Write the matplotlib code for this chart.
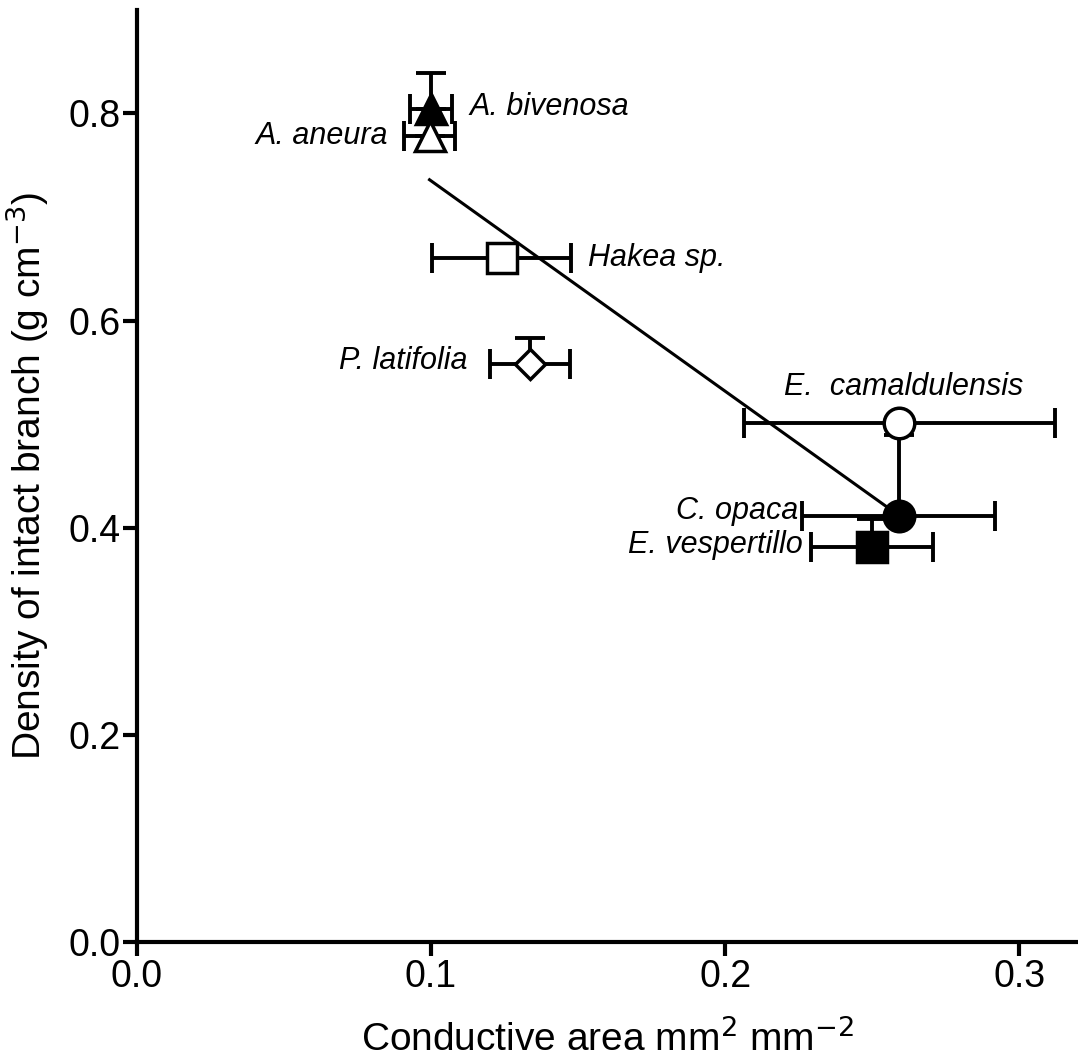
import matplotlib.pyplot as plt

species = ['A. bivenosa', 'A. aneura', 'Hakea sp.', 'P. latifolia',
           'E.  camaldulensis', 'C. opaca', 'E. vespertillo']
area = [0.100, 0.0995, 0.124, 0.1335, 0.2593, 0.259, 0.250]
area_err = [0.0073, 0.0088, 0.0236, 0.0136, 0.053, 0.0328, 0.0207]
density = [0.804, 0.778, 0.660, 0.558, 0.501, 0.411, 0.381]
density_err = [0.035, 0.0, 0.0, 0.025, 0.0, 0.079, 0.027]

# regression line ends
fit_x = [0.0995, 0.2585]
fit_y = [0.736, 0.413]

plt.rcParams['font.family'] = ['Liberation Sans', 'DejaVu Sans']

markers = ['^', '^', 's', 'D', 'o', 'o', 's']
filled = [True, False, False, False, False, True, True]
msize = [22, 22, 21, 15, 22, 22, 21]
# text placement (offset in points, alignment)
label_pos = [((28, 2), 'left'), ((-30, 0), 'right'), ((62, 0), 'left'),
             ((-45, 2), 'right'), ((3, 26), 'center'), ((-72, 4), 'right'),
             ((-50, 2), 'right')]

fig = plt.figure(figsize=(10.78, 10.64), dpi=100)
ax = fig.add_axes([0.127, 0.1147, 0.873, 0.876])

ax.plot(fit_x, fit_y, color='black', lw=2.2, zorder=2)

for i in range(len(species)):
    ax.errorbar(area[i], density[i], xerr=area_err[i],
                yerr=[[0], [density_err[i]]], fmt='none', ecolor='black',
                elinewidth=2.8, capsize=11, capthick=2.8, zorder=3)
    ax.plot(area[i], density[i], marker=markers[i], ms=msize[i],
            mfc='black' if filled[i] else 'white', mec='black', mew=2.5,
            ls='none', zorder=4)
    off, ha = label_pos[i]
    ax.annotate(species[i], (area[i], density[i]), xytext=off,
                textcoords='offset points', ha=ha, va='center',
                fontsize=22, style='italic')

ax.set_xlim(0, 0.32)
ax.set_ylim(0, 0.9)
ax.set_xticks([0.0, 0.1, 0.2, 0.3])
ax.set_yticks([0.0, 0.2, 0.4, 0.6, 0.8])
ax.set_xticklabels(['0.0', '0.1', '0.2', '0.3'])
ax.set_yticklabels(['0.0', '0.2', '0.4', '0.6', '0.8'])
for s in ['top', 'right']:
    ax.spines[s].set_visible(False)
for s in ['left', 'bottom']:
    ax.spines[s].set_linewidth(3)
ax.tick_params(length=10, width=3, labelsize=27, pad=2)

ax.set_xlabel('Conductive area mm$^{2}$ mm$^{-2}$', fontsize=28, labelpad=18)
ax.set_ylabel('Density of intact branch (g cm$^{-3}$)', fontsize=28, labelpad=12)

fig.savefig('out.png', dpi=100)
